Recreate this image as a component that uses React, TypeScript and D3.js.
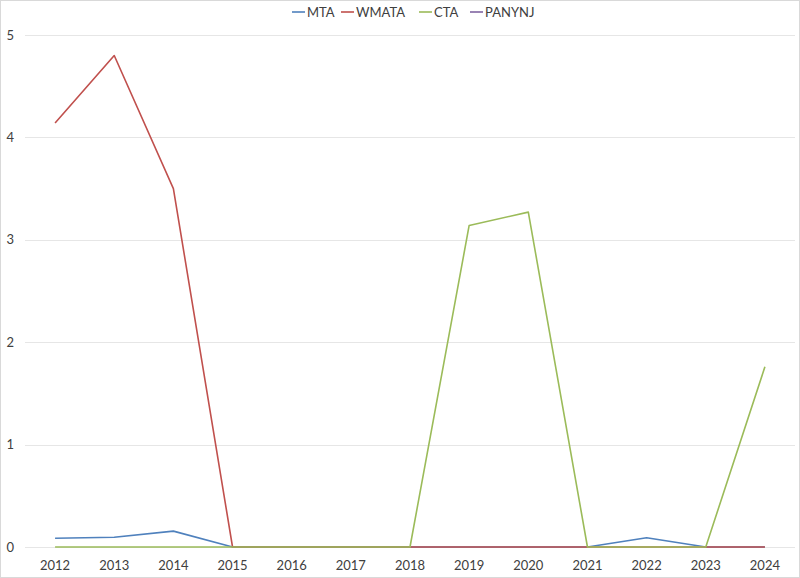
import React, { useEffect, useRef } from "react";
import * as d3 from "d3";

const years = ["2012", "2013", "2014", "2015", "2016", "2017", "2018", "2019", "2020", "2021", "2022", "2023", "2024"];
const mta = [0.085, 0.095, 0.155, 0, 0, 0, 0, 0, 0, 0, 0.09, 0, 0];
const wmata = [4.14, 4.8, 3.5, 0, 0, 0, 0, 0, 0, 0, 0, 0, 0];
const cta = [0, 0, 0, 0, 0, 0, 0, 3.14, 3.27, 0, 0, 0, 1.76];
const panynj: (number | null)[] = years.map(() => null);
const yTicks = [0, 1, 2, 3, 4, 5];

const seriesList = [
  { name: "MTA", color: "#4F81BD", values: mta as (number | null)[] },
  { name: "WMATA", color: "#C0504D", values: wmata as (number | null)[] },
  { name: "CTA", color: "#9BBB59", values: cta as (number | null)[] },
  { name: "PANYNJ", color: "#8064A2", values: panynj },
];

const W = 800;
const H = 578;
const font = "Lato, 'Open Sans', sans-serif";

const App = () => {
  const svgRef = useRef<SVGSVGElement | null>(null);

  useEffect(() => {
    document.body.style.margin = "0";
    const svg = d3.select(svgRef.current);
    svg.selectAll("*").remove();

    svg
      .append("rect")
      .attr("x", 0.5)
      .attr("y", 0.5)
      .attr("width", W - 1)
      .attr("height", H - 1)
      .attr("fill", "#fff")
      .attr("stroke", "#d9d9d9");

    const x = d3.scaleBand().domain(years).range([25.5, 794.5]);
    const y = d3.scaleLinear().domain([0, 5]).range([547, 35]);

    // gridlines
    svg
      .append("g")
      .selectAll("line")
      .data(yTicks)
      .enter()
      .append("line")
      .attr("x1", 25)
      .attr("x2", 795)
      .attr("y1", (d) => Math.round(y(d)) + 0.5)
      .attr("y2", (d) => Math.round(y(d)) + 0.5)
      .attr("stroke", "#e6e6e6")
      .attr("stroke-width", 1);

    // y labels
    svg
      .append("g")
      .selectAll("text")
      .data(yTicks)
      .enter()
      .append("text")
      .attr("x", 14)
      .attr("y", (d) => y(d))
      .attr("dy", "0.35em")
      .attr("text-anchor", "end")
      .attr("font-family", font)
      .attr("font-size", 13)
      .attr("fill", "#404040")
      .text((d) => d);

    // x labels
    svg
      .append("g")
      .selectAll("text")
      .data(years)
      .enter()
      .append("text")
      .attr("x", (d) => (x(d) || 0) + x.bandwidth() / 2)
      .attr("y", 570)
      .attr("text-anchor", "middle")
      .attr("font-family", font)
      .attr("font-size", 13)
      .attr("fill", "#404040")
      .text((d) => d);

    const line = d3
      .line<number | null>()
      .defined((d) => d !== null)
      .x((_, i) => (x(years[i]) || 0) + x.bandwidth() / 2)
      .y((d) => y(d as number));

    svg
      .append("g")
      .selectAll("path")
      .data(seriesList)
      .enter()
      .append("path")
      .attr("d", (s) => line(s.values) || "")
      .attr("fill", "none")
      .attr("stroke", (s) => s.color)
      .attr("stroke-width", 1.6)
      .attr("stroke-linejoin", "round");

    // legend
    const legendX = [292, 341, 419, 470];
    const legend = svg
      .append("g")
      .selectAll("g")
      .data(seriesList)
      .enter()
      .append("g")
      .attr("transform", (_, i) => `translate(${legendX[i]}, 12)`);
    legend
      .append("line")
      .attr("x1", 0)
      .attr("x2", 13)
      .attr("stroke", (s) => s.color)
      .attr("stroke-width", 1.6);
    legend
      .append("text")
      .attr("x", 15)
      .attr("dy", "0.35em")
      .attr("font-family", font)
      .attr("font-size", 13)
      .attr("fill", "#404040")
      .text((s) => s.name);
  }, []);

  return <svg ref={svgRef} width={W} height={H} style={{ display: "block" }} />;
};

export default App;
